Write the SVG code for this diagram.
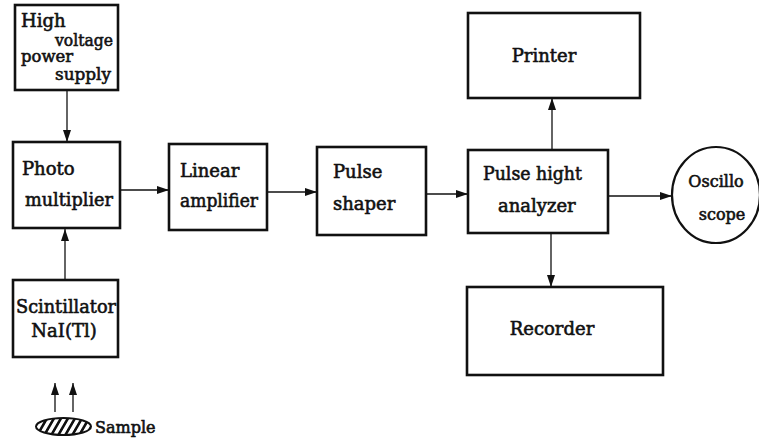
<svg xmlns="http://www.w3.org/2000/svg" width="759" height="443" viewBox="0 0 759 443">
<style>
.box{fill:#fff;stroke:#111;stroke-width:2.6}
.t{font-family:"DejaVu Serif",serif;font-size:18px;fill:#111;stroke:#111;stroke-width:0.6}
.s{font-size:16px}
.h{font-size:17px}
.c{fill:none;stroke:#111;stroke-width:1.3}
</style>
<defs>
<marker id="ah" viewBox="0 0 12 8" refX="12" refY="4" markerWidth="12" markerHeight="8" markerUnits="userSpaceOnUse" orient="auto">
<path d="M0,0 L12,4 L0,8 Z" fill="#111"/>
</marker>
<pattern id="hatch" patternUnits="userSpaceOnUse" width="7" height="20" patternTransform="skewX(-30)">
<rect x="0" y="0" width="3" height="20" fill="#111"/>
</pattern>
</defs>
<rect width="759" height="443" fill="#fff"/>
<g id="connectors">
<line class="c" x1="67" y1="90" x2="67" y2="142" marker-end="url(#ah)"/>
<line class="c" x1="65" y1="280" x2="65" y2="229" marker-end="url(#ah)"/>
<line class="c" x1="120" y1="190" x2="169" y2="190" marker-end="url(#ah)"/>
<line class="c" x1="267" y1="192" x2="317" y2="192" marker-end="url(#ah)"/>
<line class="c" x1="426" y1="194" x2="468" y2="194" marker-end="url(#ah)"/>
<line class="c" x1="552" y1="150" x2="552" y2="98" marker-end="url(#ah)"/>
<line class="c" x1="551" y1="233" x2="551" y2="287" marker-end="url(#ah)"/>
<line class="c" x1="608" y1="196" x2="672" y2="196" marker-end="url(#ah)"/>
<line class="c" x1="55" y1="412" x2="55" y2="383" marker-end="url(#ah)"/>
<line class="c" x1="73" y1="412" x2="73" y2="383" marker-end="url(#ah)"/>
</g>
<g id="hv">
<rect class="box" x="15" y="5" width="103" height="85"/>
<text class="t" x="21" y="27">High</text>
<text class="t h" x="55" y="46" textLength="58" lengthAdjust="spacingAndGlyphs">voltage</text>
<text class="t h" x="21" y="62" textLength="52" lengthAdjust="spacingAndGlyphs">power</text>
<text class="t h" x="55" y="80" textLength="56" lengthAdjust="spacingAndGlyphs">supply</text>
</g>
<g id="photo">
<rect class="box" x="13" y="142" width="107" height="86"/>
<text class="t" x="22" y="175">Photo</text>
<text class="t" x="25" y="206" textLength="88" lengthAdjust="spacingAndGlyphs">multiplier</text>
</g>
<g id="scint">
<rect class="box" x="13" y="280" width="105" height="77"/>
<text class="t" x="16" y="313" textLength="100" lengthAdjust="spacingAndGlyphs">Scintillator</text>
<text class="t" x="64" y="337" text-anchor="middle">NaI(Tl)</text>
</g>
<g id="sample">
<ellipse cx="63.5" cy="426.5" rx="27.5" ry="8.5" fill="url(#hatch)" stroke="#111" stroke-width="2"/>
<text class="t s" x="95" y="433">Sample</text>
</g>
<g id="linear">
<rect class="box" x="169" y="144" width="98" height="86"/>
<text class="t" x="180" y="177">Linear</text>
<text class="t" x="180" y="207" textLength="78" lengthAdjust="spacingAndGlyphs">amplifier</text>
</g>
<g id="shaper">
<rect class="box" x="317" y="147" width="109" height="88"/>
<text class="t" x="333" y="178">Pulse</text>
<text class="t" x="333" y="210">shaper</text>
</g>
<g id="pha">
<rect class="box" x="468" y="150" width="140" height="83"/>
<text class="t" x="483" y="180" textLength="99" lengthAdjust="spacingAndGlyphs">Pulse hight</text>
<text class="t" x="498" y="212">analyzer</text>
</g>
<g id="printer">
<rect class="box" x="468" y="13" width="172" height="85"/>
<text class="t" x="544" y="62" text-anchor="middle">Printer</text>
</g>
<g id="recorder">
<rect class="box" x="467" y="287" width="196" height="88"/>
<text class="t" x="552" y="335" text-anchor="middle">Recorder</text>
</g>
<g id="osc">
<ellipse cx="716" cy="195" rx="44" ry="48" fill="#fff" stroke="#111" stroke-width="2.2"/>
<text class="t s" x="716" y="187" text-anchor="middle">Oscillo</text>
<text class="t s" x="722" y="220" text-anchor="middle">scope</text>
</g>
</svg>
